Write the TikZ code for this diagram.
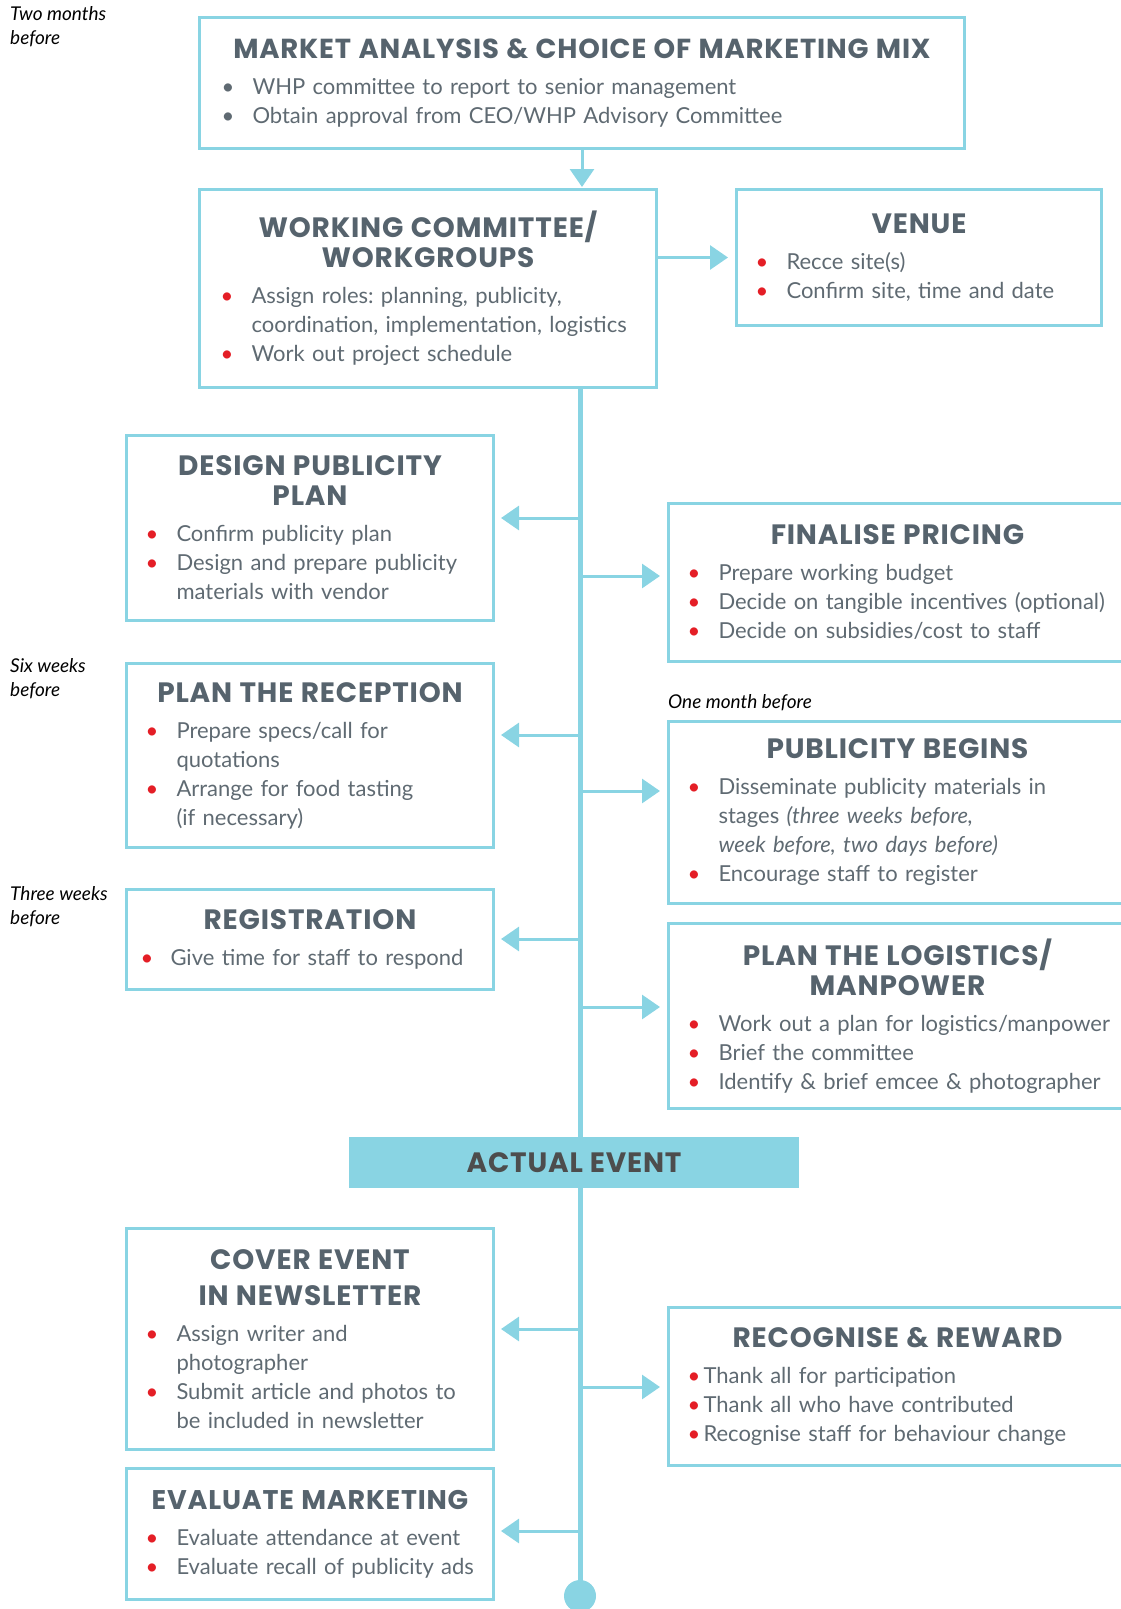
\documentclass[tikz,border=0pt]{standalone}
\usepackage{fontspec}
\setmainfont{Lato}
\newfontfamily\headfont{Poppins}[LetterSpace=3]
\usetikzlibrary{arrows.meta}
\frenchspacing

\definecolor{linecyan}{HTML}{89D4E3}
\definecolor{headgray}{HTML}{56636D}
\definecolor{textgray}{HTML}{5F6A72}
\definecolor{bulred}{HTML}{E41E26}
\definecolor{eventgray}{HTML}{4D4D4D}
\colorlet{bulcol}{bulred}

\newlength{\bulgap}\setlength{\bulgap}{31pt}
\newcommand{\boxhead}[1]{{\headfont\bfseries\fontsize{28}{30}\selectfont\color{headgray}\centering #1\par}\vspace{7pt}}
\newcommand{\itm}[2][19pt]{\par\noindent\hangindent=\dimexpr#1+\bulgap\relax\hangafter=1\relax
\hspace*{#1}\makebox[\bulgap][l]{\textcolor{bulcol}{\textbullet}}\begingroup\let\\\newline#2\endgroup\par}

\begin{document}
\begin{tikzpicture}[x=1pt,y=-1pt,
box/.style 2 args={%
draw=linecyan,
line width=3pt,
anchor=north west,
inner sep=0pt,
minimum width=#1pt,
text width=#1pt,
minimum height=#2pt,
text=textgray,
font=\fontsize{22}{29}\selectfont\raggedright
},
note/.style={%
anchor=north west,
align=left,
inner sep=0pt,
font=\itshape\fontsize{19}{24.5}\selectfont
},
event/.style={%
fill=linecyan,
minimum width=450pt,
minimum height=51pt,
text=eventgray,
font=\headfont\bfseries\fontsize{28}{30}\selectfont
},
branch/.style={%
draw=linecyan,
line width=3pt,
-{Triangle[length=18pt,width=24pt]}
},
trunk/.style={%
draw=linecyan,
line width=5pt
},
dot/.style={%
circle,
fill=linecyan,
minimum size=32pt,
inner sep=0pt
},
]
\useasboundingbox (0,0) rectangle (1121,1609);
%% Time notes
\node[note](twomonths)at(10,6){Two months\\before};
\node[note](sixweeks)at(10,658){Six weeks\\before};
\node[note](threeweeks)at(10,886){Three weeks\\before};
\node[note](onemonth)at(668,694){One month before};
%% Planning
\node[box={765}{131}](market)at(198,16){\colorlet{bulcol}{textgray}%
\boxhead{\fontsize{27.5}{30}\selectfont MARKET ANALYSIS \& CHOICE OF MARKETING MIX}%
\itm[22pt]{WHP committee to report to senior management}%
\itm[22pt]{Obtain approval from CEO/WHP Advisory Committee}};
\node[box={457}{198}](committee)at(198,188){%
\boxhead{WORKING COMMITTEE/\\WORKGROUPS}%
\itm[21pt]{Assign roles: planning, publicity,\\coordination, implementation, logistics}%
\itm[21pt]{Work out project schedule}};
\node[box={365}{136}](venue)at(735,188){%
\boxhead{VENUE}%
\itm{Recce site(s)}%
\itm{Confirm site, time and date}};
%% Left column
\node[box={367}{185}](design)at(125,434){%
\boxhead{DESIGN PUBLICITY\\PLAN}%
\itm{Confirm publicity plan}%
\itm{Design and prepare publicity\\materials with vendor}};
\node[box={367}{184}](reception)at(125,662){%
\boxhead{PLAN THE RECEPTION}%
\itm{Prepare specs/call for\\quotations}%
\itm{Arrange for food tasting\\(if necessary)}};
\node[box={367}{100}](registration)at(125,888){\setlength{\bulgap}{30pt}%
\boxhead{REGISTRATION}%
\itm[14pt]{Give time for staff to respond}};
\node[box={367}{221}](cover)at(125,1227){%
\boxhead{COVER EVENT\\[6pt]IN NEWSLETTER}%
\itm{Assign writer and\\photographer}%
\itm{Submit article and photos to\\be included in newsletter}};
\node[box={367}{131}](evaluate)at(125,1467){%
\boxhead{\fontsize{27}{30}\selectfont EVALUATE MARKETING}%
\itm{Evaluate attendance at event}%
\itm{Evaluate recall of publicity ads}};
%% Right column
\node[box={458}{158}](pricing)at(667,502){%
\boxhead{FINALISE PRICING}%
\itm{Prepare working budget}%
\itm{Decide on tangible incentives (optional)}%
\itm{Decide on subsidies/cost to staff}};
\node[box={458}{182}](publicity)at(667,720){%
\boxhead{PUBLICITY BEGINS}%
\itm{Disseminate publicity materials in\\stages \textit{(three weeks before,}\\\textit{week before, two days before)}}%
\itm{Encourage staff to register}};
\node[box={458}{185}](logistics)at(667,922){%
\boxhead{PLAN THE LOGISTICS/\\MANPOWER}%
\itm{Work out a plan for logistics/manpower}%
\itm{Brief the committee}%
\itm{Identify \& brief emcee \& photographer}};
\node[box={458}{158}](recognise)at(667,1306){\setlength{\bulgap}{16pt}%
\boxhead{RECOGNISE \& REWARD}%
\itm{Thank all for participation}%
\itm{Thank all who have contributed}%
\itm{Recognise staff for behaviour change}};
%% Timeline
\coordinate(trunktop)at(580,386);
\coordinate(trunkend)at(580,1596);
\draw[trunk](trunktop)--(trunkend);
\node[dot](enddot)at(trunkend){};
\node[event](actual)at(574,1162.5){ACTUAL EVENT};
\draw[branch,shorten >=1pt](market.south)--(market.south|-committee.north);
\draw[branch,shorten >=7pt](venue.west-|committee.east)--(venue.west);
\foreach \y/\n in {518/design,735/reception,939/registration,1329/cover,1531/evaluate}{%
\coordinate(t-\n)at(580,\y);
\draw[branch,shorten >=6pt](t-\n)--(t-\n-|\n.east);
}
\foreach \y/\n in {576/pricing,791/publicity,1007/logistics,1387/recognise}{%
\coordinate(t-\n)at(580,\y);
\draw[branch,shorten >=7pt](t-\n)--(t-\n-|\n.west);
}
\end{tikzpicture}
\end{document}
